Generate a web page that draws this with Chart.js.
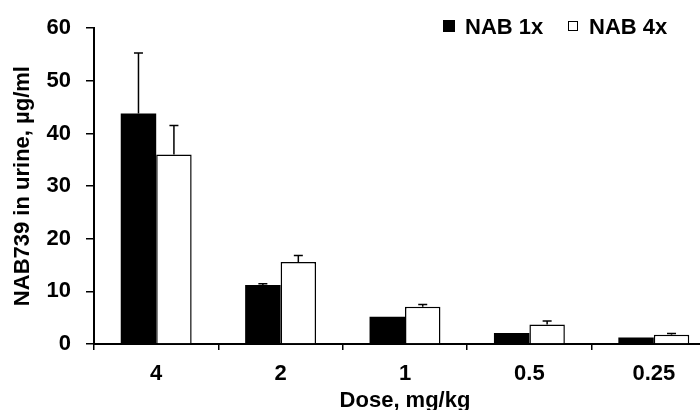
<!DOCTYPE html>
<html>
<head>
<meta charset="utf-8">
<script src="https://cdn.jsdelivr.net/npm/chart.js@4/dist/chart.umd.min.js"></script>
<style>
  html, body { margin: 0; padding: 0; background: #fff; overflow: hidden; }
  #wrap { position: relative; width: 716px; height: 410px; }
  .legend { position: absolute; font: bold 22px "Liberation Sans", Arial, sans-serif; line-height: 22px; color: #000; white-space: nowrap; }
  .box { position: absolute; box-sizing: border-box; }
</style>
</head>
<body>
<div id="wrap">
  <canvas id="doseChart"></canvas>
  <div id="legend"></div>
</div>
<script>
const doses = ["4", "2", "1", "0.5", "0.25"];
const nab1 = [43.8, 11.2, 5.2, 2.1, 1.25];
const nab1Err = [11.5, 0.25, 0, 0, 0];
const nab4 = [36.0, 15.6, 7.1, 3.7, 1.75];
const nab4Err = [5.5, 1.2, 0.4, 0.65, 0.25];
const yTicks = [0, 10, 20, 30, 40, 50, 60];

Chart.defaults.font.family = '"Liberation Sans", Arial, sans-serif';
Chart.defaults.color = "#000";

// error bars, upward only
const errorBars = {
  id: "errorBars",
  afterDatasetsDraw(chart) {
    const ctx = chart.ctx;
    const y = chart.scales.y;
    const errs = [nab1Err, nab4Err];
    chart.data.datasets.forEach((ds, i) => {
      chart.getDatasetMeta(i).data.forEach((bar, j) => {
        const e = errs[i][j];
        if (!e) return;
        const top = y.getPixelForValue(ds.data[j] + e);
        ctx.save();
        ctx.strokeStyle = "#000";
        ctx.lineWidth = 1.5;
        ctx.beginPath();
        ctx.moveTo(bar.x, bar.y);
        ctx.lineTo(bar.x, top);
        ctx.moveTo(bar.x - 4.5, top);
        ctx.lineTo(bar.x + 4.5, top);
        ctx.stroke();
        ctx.restore();
      });
    });
  },
};

const ctx = document.getElementById("doseChart").getContext("2d");
const chart = new Chart(ctx, {
  type: "bar",
  data: {
    labels: doses,
    datasets: [
      {
        label: "NAB 1x",
        data: nab1,
        backgroundColor: "#000",
        borderWidth: 0,
      },
      {
        label: "NAB 4x",
        data: nab4,
        backgroundColor: "#fff",
        borderColor: "#000",
        borderWidth: 1.5,
        borderSkipped: "bottom",
      },
    ],
  },
  options: {
    responsive: true,
    maintainAspectRatio: false,
    animation: false,
    categoryPercentage: 0.57,
    barPercentage: 1.0,
    layout: { padding: { top: 27, left: 0, right: 0, bottom: 0 } },
    plugins: { legend: { display: false }, tooltip: { enabled: false } },
    scales: {
      x: {
        grid: { display: true, drawOnChartArea: false, offset: true, tickLength: 6, color: "#000", lineWidth: 1.5 },
        border: { color: "#000", width: 2 },
        ticks: { color: "#000", font: { size: 22, weight: "bold" }, padding: 11 },
        title: { display: true, text: "Dose, mg/kg", color: "#000", font: { size: 22, weight: "bold" }, padding: { top: 0, bottom: -4 } },
        afterFit(scale) { scale.height = 66; },
      },
      y: {
        min: 0,
        max: 60,
        afterBuildTicks(scale) { scale.ticks = yTicks.map((v) => ({ value: v })); },
        grid: { display: true, drawOnChartArea: false, tickLength: 8, color: "#000", lineWidth: 1.5 },
        border: { color: "#000", width: 2 },
        ticks: { color: "#000", font: { size: 22, weight: "bold" }, padding: 15 },
        title: { display: true, text: "NAB739 in urine, µg/ml", color: "#000", font: { size: 22, weight: "bold" }, padding: { top: 10, bottom: 0 } },
        afterFit(scale) { scale.width = 94; },
      },
    },
  },
  plugins: [errorBars],
});

// HTML legend
const legendEl = document.getElementById("legend");
const items = [
  { left: 443, top: 20, size: 12, fill: "#000", textLeft: 465 },
  { left: 568, top: 21, size: 10, fill: "#fff", textLeft: 589 },
];
chart.data.datasets.forEach((ds, i) => {
  const it = items[i];
  const box = document.createElement("div");
  box.className = "box";
  box.style.cssText = `left:${it.left}px;top:${it.top}px;width:${it.size}px;height:${it.size}px;background:${it.fill};border:1px solid #000;`;
  const txt = document.createElement("div");
  txt.className = "legend";
  txt.style.left = it.textLeft + "px";
  txt.style.top = "16px";
  txt.textContent = ds.label;
  legendEl.appendChild(box);
  legendEl.appendChild(txt);
});
</script>
</body>
</html>
